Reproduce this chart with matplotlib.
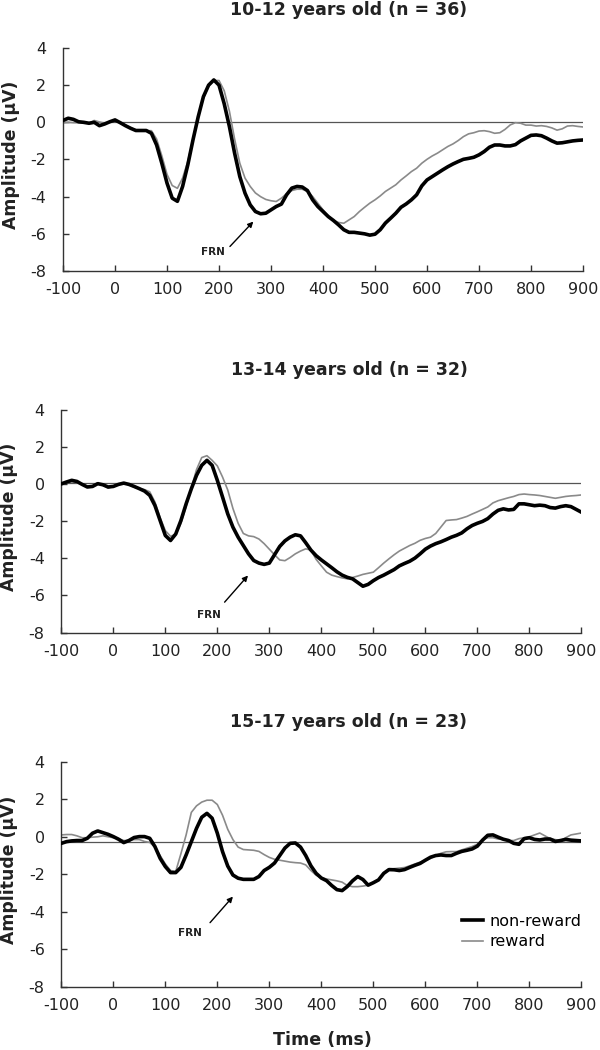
import numpy as np
import matplotlib
matplotlib.use('Agg')
from matplotlib import pyplot as plt

plt.rcParams['axes.unicode_minus'] = False

# time axis (ms), values read every 10 ms
time_ms = np.arange(-100, 901, 10)

titles = ['10-12 years old (n = 36)', '13-14 years old (n = 32)', '15-17 years old (n = 23)']
baselines = [0.0, 0.09, -0.26]

# 10-12 years
nonreward_1 = [0.1, 0.22, 0.16, 0.03, 0.0, -0.05, 0.0, -0.18, -0.09, 0.03,
               0.13, -0.02, -0.18, -0.32, -0.44, -0.44, -0.44, -0.59, -1.22, -2.2,
               -3.27, -4.08, -4.25, -3.45, -2.29, -0.94, 0.3, 1.38, 2.0, 2.28,
               2.0, 1.0, -0.23, -1.66, -2.92, -3.81, -4.44, -4.8, -4.92, -4.89,
               -4.71, -4.53, -4.4, -3.9, -3.54, -3.45, -3.48, -3.67, -4.17, -4.53,
               -4.8, -5.07, -5.28, -5.52, -5.78, -5.92, -5.92, -5.96, -6.0, -6.07,
               -6.02, -5.78, -5.42, -5.16, -4.89, -4.57, -4.39, -4.17, -3.9, -3.42,
               -3.1, -2.92, -2.74, -2.56, -2.39, -2.24, -2.11, -1.99, -1.94, -1.88,
               -1.75, -1.57, -1.34, -1.22, -1.22, -1.27, -1.27, -1.2, -1.0, -0.85,
               -0.7, -0.68, -0.72, -0.85, -1.0, -1.12, -1.1, -1.05, -1.0, -0.97,
               -0.95]
reward_1 = [-0.02, 0.0, -0.02, -0.02, -0.05, -0.05, 0.1, 0.02, -0.05, 0.02,
            0.1, 0.0, -0.15, -0.3, -0.4, -0.45, -0.45, -0.45, -0.9, -1.8,
            -2.8, -3.4, -3.55, -3.0, -2.1, -0.9, 0.3, 1.3, 1.95, 2.25,
            2.25, 1.7, 0.6, -0.9, -2.2, -3.0, -3.45, -3.8, -4.0, -4.15,
            -4.22, -4.26, -4.08, -3.84, -3.67, -3.6, -3.6, -3.72, -3.99, -4.35,
            -4.71, -5.03, -5.28, -5.39, -5.43, -5.25, -5.07, -4.8, -4.57, -4.35,
            -4.17, -3.96, -3.72, -3.54, -3.36, -3.1, -2.88, -2.65, -2.47, -2.2,
            -1.99, -1.81, -1.66, -1.48, -1.3, -1.16, -0.98, -0.77, -0.62, -0.56,
            -0.47, -0.45, -0.5, -0.59, -0.56, -0.38, -0.14, -0.02, -0.05, -0.15,
            -0.15, -0.2, -0.18, -0.22, -0.3, -0.42, -0.35, -0.2, -0.18, -0.22,
            -0.25]

# 13-14 years
nonreward_2 = [0.03, 0.13, 0.22, 0.16, 0.0, -0.14, -0.11, 0.04, -0.02, -0.14,
               -0.11, 0.0, 0.07, 0.0, -0.11, -0.23, -0.36, -0.59, -1.14, -1.95,
               -2.76, -3.03, -2.68, -1.95, -1.05, -0.24, 0.49, 1.03, 1.3, 1.03,
               0.22, -0.68, -1.59, -2.31, -2.85, -3.3, -3.75, -4.11, -4.25, -4.32,
               -4.25, -3.8, -3.35, -3.05, -2.85, -2.72, -2.78, -3.15, -3.55, -3.85,
               -4.08, -4.29, -4.5, -4.72, -4.9, -5.02, -5.1, -5.3, -5.5, -5.4,
               -5.2, -5.03, -4.9, -4.75, -4.6, -4.4, -4.27, -4.15, -3.98, -3.75,
               -3.5, -3.33, -3.2, -3.1, -2.98, -2.85, -2.75, -2.62, -2.4, -2.22,
               -2.1, -2.0, -1.85, -1.6, -1.4, -1.32, -1.38, -1.35, -1.05, -1.05,
               -1.1, -1.15, -1.12, -1.15, -1.25, -1.28, -1.2, -1.15, -1.2, -1.35,
               -1.5]
reward_2 = [0.0, 0.08, 0.15, 0.1, -0.02, -0.1, -0.08, 0.05, -0.05, -0.2,
            -0.1, 0.02, 0.05, 0.0, -0.15, -0.22, -0.28, -0.4, -0.95, -1.8,
            -2.5, -2.8, -2.7, -2.1, -1.2, -0.2, 0.8, 1.45, 1.55, 1.3,
            1.0, 0.4, -0.3, -1.3, -2.1, -2.65, -2.78, -2.82, -2.95, -3.2,
            -3.5, -3.8, -4.08, -4.12, -3.95, -3.75, -3.6, -3.48, -3.55, -4.05,
            -4.4, -4.74, -4.9, -4.98, -5.05, -5.1, -5.03, -4.95, -4.86, -4.8,
            -4.74, -4.5, -4.25, -4.02, -3.8, -3.6, -3.45, -3.3, -3.18, -3.02,
            -2.92, -2.85, -2.65, -2.3, -1.95, -1.92, -1.9, -1.82, -1.73, -1.6,
            -1.48, -1.35, -1.22, -1.0, -0.88, -0.8, -0.72, -0.65, -0.55, -0.52,
            -0.55, -0.57, -0.6, -0.65, -0.7, -0.75, -0.7, -0.65, -0.62, -0.6,
            -0.57]

# 15-17 years
nonreward_3 = [-0.35, -0.26, -0.22, -0.2, -0.2, -0.08, 0.19, 0.31, 0.22, 0.13,
               0.01, -0.13, -0.31, -0.2, -0.04, 0.01, 0.01, -0.08, -0.52, -1.15,
               -1.59, -1.91, -1.91, -1.63, -0.97, -0.26, 0.45, 1.04, 1.25, 0.99,
               0.19, -0.79, -1.56, -2.04, -2.21, -2.27, -2.27, -2.27, -2.12, -1.8,
               -1.63, -1.4, -1.0, -0.6, -0.35, -0.33, -0.55, -1.0, -1.55, -1.95,
               -2.2, -2.34, -2.6, -2.82, -2.87, -2.65, -2.35, -2.12, -2.28, -2.58,
               -2.45, -2.3, -1.95, -1.75, -1.76, -1.8, -1.75, -1.63, -1.52, -1.42,
               -1.25, -1.09, -1.0, -0.97, -1.0, -1.0, -0.88, -0.78, -0.72, -0.65,
               -0.5, -0.18, 0.08, 0.1, -0.02, -0.13, -0.2, -0.35, -0.4, -0.1,
               -0.05, -0.14, -0.17, -0.12, -0.12, -0.25, -0.2, -0.14, -0.18, -0.2,
               -0.22]
reward_3 = [0.1, 0.12, 0.12, 0.05, -0.05, -0.05, -0.02, 0.0, 0.05, 0.0,
            -0.05, -0.1, -0.2, -0.2, -0.15, -0.15, -0.25, -0.3, -0.55, -1.0,
            -1.45, -1.8, -1.85, -0.9, 0.1, 1.3, 1.65, 1.85, 1.95, 1.95,
            1.72, 1.15, 0.4, -0.15, -0.55, -0.68, -0.7, -0.72, -0.78, -0.95,
            -1.1, -1.2, -1.25, -1.3, -1.35, -1.38, -1.4, -1.5, -1.8, -2.05,
            -2.18, -2.25, -2.3, -2.35, -2.42, -2.6, -2.66, -2.66, -2.63, -2.58,
            -2.45, -2.3, -1.93, -1.75, -1.7, -1.67, -1.64, -1.55, -1.45, -1.35,
            -1.27, -1.15, -1.0, -0.88, -0.8, -0.79, -0.79, -0.7, -0.61, -0.52,
            -0.4, -0.16, -0.05, -0.05, -0.12, -0.15, -0.2, -0.2, -0.1, -0.05,
            0.0, 0.1, 0.2, 0.05, -0.1, -0.15, -0.2, -0.05, 0.1, 0.15,
            0.2]

nonreward = [nonreward_1, nonreward_2, nonreward_3]
reward = [reward_1, reward_2, reward_3]

# FRN arrows: text position, arrow tail, arrow tip (data coords)
frn_text = [(188, -6.97), (183, -7.03), (148, -5.15)]
frn_tail = [(221, -6.68), (214, -6.36), (186, -4.58)]
frn_tip = [(266, -5.34), (259, -4.92), (230, -3.19)]

fig = plt.figure(figsize=(6, 10.5), dpi=100)
rects = [[0.105, 0.7419, 0.8667, 0.2124],
         [0.1022, 0.3976, 0.8667, 0.2116],
         [0.1022, 0.0602, 0.8667, 0.2143]]
title_y = [10, 370, 722]

for i in range(3):
    ax = fig.add_axes(rects[i])
    ax.axhline(baselines[i], color='#555555', lw=0.9, zorder=1)
    ax.plot(time_ms, reward[i], color='#8a8a8a', lw=1.2, label='reward', zorder=2)
    ax.plot(time_ms, nonreward[i], color='black', lw=2.6, label='non-reward', zorder=3)
    ax.set_xlim(-100, 900)
    ax.set_ylim(-8, 4)
    ax.set_xticks(range(-100, 901, 100))
    ax.set_yticks(range(-8, 5, 2))
    for s in ['top', 'right']:
        ax.spines[s].set_visible(False)
    for s in ['left', 'bottom']:
        ax.spines[s].set_color('#333333')
        ax.spines[s].set_linewidth(1.0)
    ax.tick_params(axis='both', direction='in', length=4, width=1, color='#333333',
                   labelsize=11.5, labelcolor='#222222')
    ax.tick_params(axis='y', pad=12)
    ax.tick_params(axis='x', pad=8)
    ax.set_ylabel('Amplitude (µV)', fontsize=12.4, fontweight='bold', color='#222222')
    ax.yaxis.set_label_coords(-0.083, 0.52)
    ax.annotate('', xy=frn_tip[i], xytext=frn_tail[i],
                arrowprops=dict(arrowstyle='-|>', color='black', lw=1.0,
                                mutation_scale=8, shrinkA=0, shrinkB=0))
    ax.text(frn_text[i][0], frn_text[i][1], 'FRN', fontsize=7.5, fontweight='bold',
            ha='center', va='center', color='#222222')
    fig.text(349 / 600, 1 - title_y[i] / 1050, titles[i], fontsize=12.5,
             fontweight='bold', ha='center', va='center', color='#222222')
    if i == 2:
        handles, labels = ax.get_legend_handles_labels()
        ax.legend(handles[::-1], labels[::-1], loc='upper left', bbox_to_anchor=(0.755, 0.36),
                  frameon=False, fontsize=11.5, handlelength=1.3, handletextpad=0.4,
                  borderpad=0, labelspacing=0.35)

fig.text(322 / 600, 1 - 1040 / 1050, 'Time (ms)', fontsize=12.6, fontweight='bold',
         ha='center', va='center', color='#222222')

fig.savefig('out.png', dpi=100)
